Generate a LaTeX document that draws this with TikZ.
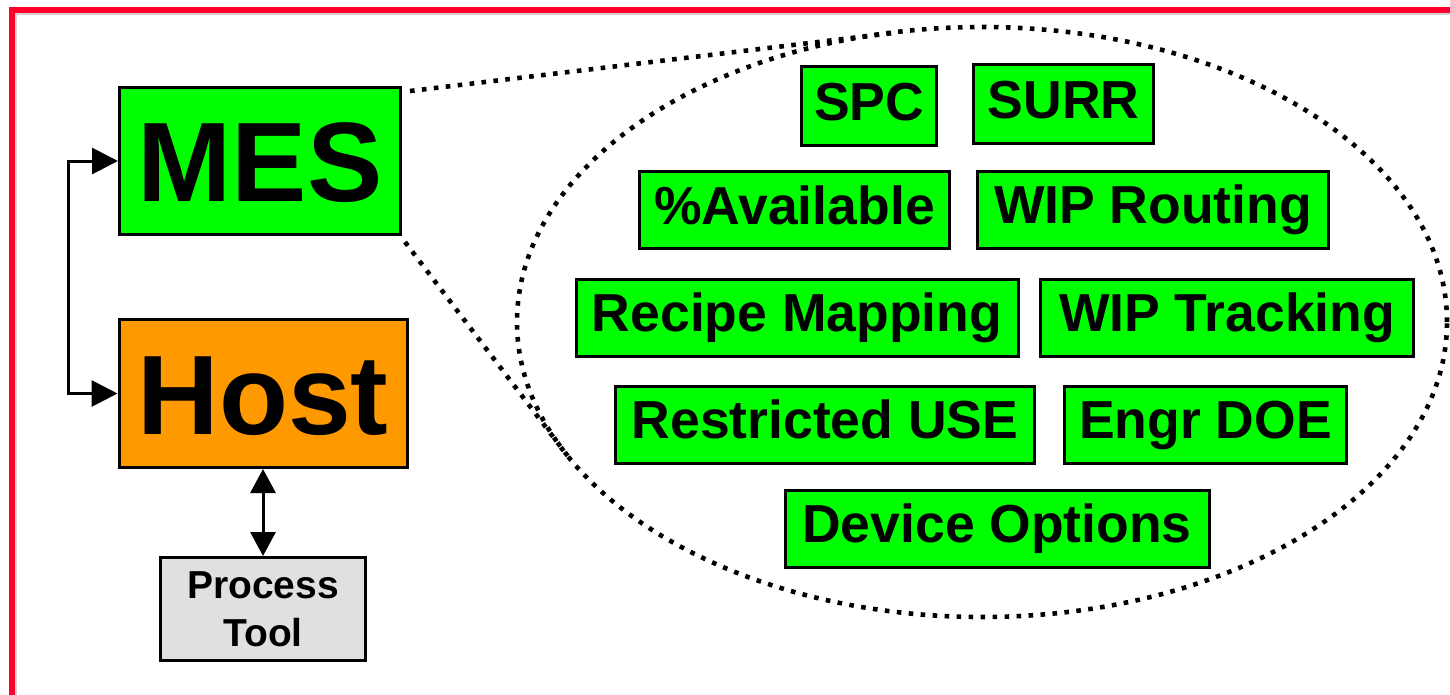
\documentclass[tikz,border=0pt]{standalone}
\usepackage{fontspec}
\setmainfont{Liberation Sans}
\usetikzlibrary{arrows.meta,calc}
\definecolor{brdred}{RGB}{255,0,45}
\definecolor{mesgreen}{RGB}{0,255,0}
\definecolor{hostorange}{RGB}{255,153,0}
\definecolor{toolgray}{RGB}{224,224,224}
\begin{document}
\begin{tikzpicture}[x=1pt,y=-1pt,
  box/.style={draw=black, line width=3pt, inner sep=0pt, align=center},
  gbox/.style={box, fill=mesgreen, minimum height=77pt,
    font=\fontsize{53.5}{60}\selectfont\bfseries, text height=38.2pt, text depth=9.6pt},
  bigbox/.style={box, font=\fontsize{113}{120}\selectfont\bfseries, text height=81pt, text depth=0pt},
  conn/.style={line width=3pt, {Triangle[length=26pt,width=26pt]}-{Triangle[length=26pt,width=26pt]}},
  connsmall/.style={line width=3pt, {Triangle[length=24pt,width=25pt]}-{Triangle[length=24pt,width=25pt]}},
  dotline/.style={line width=4.6pt, dash pattern=on 4.6pt off 7.4pt}]
\useasboundingbox (0,0) rectangle (1450,694);
\fill[white] (0,0) rectangle (1450,694);
% frame
\draw[gray!35, line width=1.5pt] (15.8,14.1) rectangle (1480,720);
\draw[brdred, line width=6pt] (12,10) rectangle (1480,720);

% zoom ellipse and dotted lines
\draw[dotline] (982,322) ellipse [x radius=465pt, y radius=295pt];

% left boxes
\node[bigbox, fill=mesgreen, minimum width=281pt, minimum height=147pt] (mes) at (260,161) {MES};
\node[bigbox, fill=hostorange, minimum width=288pt, minimum height=148pt] (host) at (263,393.5) {Host};
\node[box, fill=toolgray, minimum width=205pt, minimum height=103pt,
  font=\fontsize{39}{48}\selectfont\bfseries] (tool) at (263,609) {Process\\Tool};

\coordinate (t1) at (893,33);
\coordinate (t2) at (570,459);
\draw[dotline] ($(mes.north east)+(8,5)$) -- (t1);
\draw[dotline] ($(mes.south east)+(3,6)$) -- (t2);

% connectors
\draw[conn] (mes.west) -- ++(-49.5,0) |- (host.west);
\draw[connsmall] (host.south) -- (tool.north);

% green function boxes
\node[gbox, minimum width=135pt, minimum height=79pt] (spc) at (869,106) {SPC};
\node[gbox, minimum width=180pt, minimum height=79pt] (surr) at (1063.5,104) {SURR};
\node[gbox, minimum width=310pt] (avail) at (794.5,210) {\%Available};
\node[gbox, minimum width=351pt] (wiprout) at (1153,209.5) {WIP Routing};
\node[gbox, minimum width=442pt] (recipe) at (797,317.5) {Recipe Mapping};
\node[gbox, minimum width=373pt] (wiptrack) at (1227,317.5) {WIP Tracking};
\node[gbox, minimum width=419pt] (restricted) at (825,424.5) {Restricted USE};
\node[gbox, minimum width=282pt] (engr) at (1205.5,424.5) {Engr DOE};
\node[gbox, minimum width=424pt] (device) at (997,528.5) {Device Options};
\end{tikzpicture}
\end{document}
